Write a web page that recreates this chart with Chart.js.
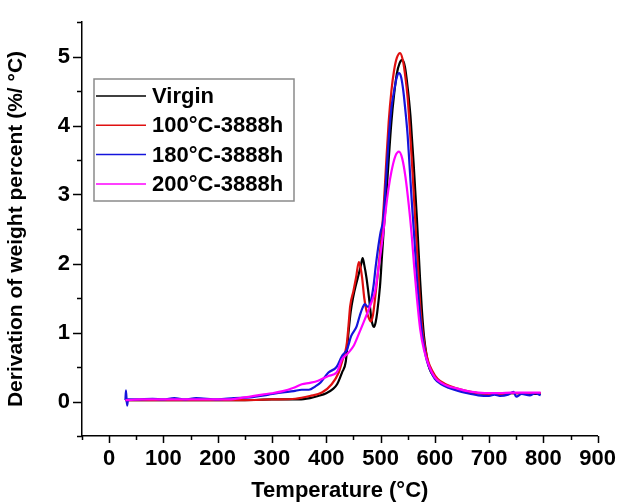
<!DOCTYPE html>
<html><head><meta charset="utf-8">
<script src="https://cdn.jsdelivr.net/npm/chart.js@4"></script>
<style>html,body{margin:0;padding:0;background:#fff}</style>
</head><body>
<canvas id="c" width="619" height="504"></canvas>
<script>
// ---- data (temperature °C, derivative %/°C) ----
const seriesLabels = ['Virgin', '100°C-3888h', '180°C-3888h', '200°C-3888h'];
const seriesColors = ['#000000', '#e01010', '#1414dc', '#ff00ff'];

const virgin = [[30,0.02],[60,0.02],[100,0.02],[150,0.02],[200,0.02],[250,0.02],[300,0.03],[330,0.03],[350,0.03],[370,0.05],[385,0.08],[400,0.12],[412,0.18],[420,0.25],[429,0.42],[436,0.58],[441,1.0],[445,1.3],[450,1.53],[455,1.7],[460,1.85],[464,1.98],[467,2.08],[470,1.98],[474,1.8],[477,1.62],[480,1.42],[483,1.2],[486,1.1],[488,1.08],[491,1.15],[494,1.3],[499,1.67],[503,2.15],[506,2.5],[510,2.9],[515,3.5],[520,4.05],[525,4.45],[530,4.75],[535,4.9],[540,4.95],[545,4.85],[550,4.55],[555,4.15],[558,3.8],[561,3.45],[564,3.05],[567,2.65],[570,2.2],[573,1.75],[576,1.35],[580,0.95],[585,0.66],[590,0.48],[600,0.35],[610,0.28],[625,0.22],[640,0.18],[660,0.14],[680,0.12],[700,0.11],[720,0.11],[740,0.12],[760,0.12],[780,0.11],[795,0.11]];

const aged100 = [[30,0.02],[60,0.02],[100,0.02],[150,0.02],[200,0.02],[250,0.02],[300,0.03],[343,0.04],[370,0.08],[392,0.13],[410,0.25],[423,0.42],[430,0.6],[435,0.72],[438,0.85],[441,1.1],[444,1.38],[450,1.6],[455,1.8],[460,2.02],[463,1.95],[466,1.8],[470,1.5],[474,1.32],[477,1.24],[482,1.16],[486,1.25],[490,1.5],[495,1.85],[499,2.16],[503,2.5],[506,2.85],[510,3.4],[515,4.05],[520,4.5],[525,4.8],[530,4.98],[536,5.05],[541,4.95],[545,4.75],[550,4.4],[554,3.95],[558,3.45],[562,2.9],[566,2.35],[570,1.8],[573,1.4],[577,1.05],[582,0.78],[588,0.58],[595,0.45],[605,0.33],[620,0.25],[640,0.19],[660,0.15],[680,0.12],[700,0.11],[720,0.11],[740,0.12],[760,0.12],[780,0.12],[795,0.12]];

const aged180 = [[30,0.02],[31,0.16],[33,-0.06],[35,0.03],[50,0.03],[80,0.04],[100,0.03],[120,0.05],[140,0.03],[160,0.05],[200,0.03],[230,0.05],[260,0.06],[294,0.1],[320,0.13],[340,0.15],[355,0.17],[368,0.17],[380,0.22],[390,0.28],[404,0.42],[419,0.5],[429,0.66],[438,0.75],[446,0.95],[456,1.09],[462,1.25],[467,1.36],[471,1.41],[477,1.37],[482,1.45],[487,1.67],[491,1.95],[496,2.25],[500,2.45],[505,2.64],[510,3.2],[515,3.8],[520,4.25],[525,4.5],[530,4.7],[534,4.76],[538,4.7],[542,4.5],[546,4.2],[550,3.85],[554,3.35],[558,2.85],[562,2.4],[566,1.9],[570,1.5],[574,1.15],[579,0.85],[585,0.6],[592,0.45],[600,0.33],[612,0.25],[625,0.2],[640,0.16],[660,0.12],[680,0.09],[700,0.08],[710,0.1],[720,0.08],[735,0.1],[745,0.14],[750,0.07],[760,0.11],[775,0.09],[785,0.12],[795,0.09]];

const aged200 = [[30,0.02],[60,0.03],[100,0.03],[150,0.03],[200,0.03],[221,0.03],[250,0.06],[282,0.1],[300,0.12],[320,0.15],[340,0.2],[355,0.25],[370,0.27],[385,0.3],[404,0.37],[419,0.42],[429,0.61],[440,0.7],[450,0.8],[460,0.98],[471,1.19],[483,1.43],[490,1.6],[496,1.91],[501,2.2],[505,2.44],[510,2.8],[515,3.1],[520,3.33],[527,3.55],[534,3.62],[540,3.52],[546,3.25],[552,2.85],[557,2.45],[562,1.95],[567,1.5],[573,1.05],[580,0.75],[590,0.5],[600,0.35],[612,0.27],[625,0.22],[640,0.19],[660,0.15],[680,0.13],[700,0.12],[720,0.12],[740,0.13],[760,0.13],[780,0.13],[795,0.13]];

const xTicks = [0,100,200,300,400,500,600,700,800,900];
const yTicks = [0,1,2,3,4,5];
const xMin = -50, xMax = 900, yMin = -0.5, yMax = 5.5;

const FONT = '"Liberation Sans", Arial, sans-serif';
const allSeries = [virgin, aged100, aged180, aged200];

const datasets = allSeries.map((s, i) => ({
  label: seriesLabels[i],
  data: s.map(p => ({x: p[0], y: p[1]})),
  borderColor: seriesColors[i],
  backgroundColor: seriesColors[i],
  borderWidth: 2.2,
  pointRadius: 0,
  cubicInterpolationMode: 'monotone',
  order: 3 - i
}));

const tickMarks = {
  id: 'tickMarks',
  afterDraw(chart) {
    const ctx = chart.ctx, xs = chart.scales.x, ys = chart.scales.y;
    ctx.save();
    ctx.strokeStyle = '#000';
    ctx.lineWidth = 1.5;
    ctx.beginPath();
    for (let v = xMin; v <= xMax + 1e-9; v += 50) {
      const px = Math.round(xs.getPixelForValue(v)) + 0.5;
      const len = (v % 100 === 0) ? 7 : 4;
      ctx.moveTo(px, xs.top); ctx.lineTo(px, xs.top + len);
    }
    for (let v = yMin; v <= yMax + 1e-9; v += 0.5) {
      const py = Math.round(ys.getPixelForValue(v)) + 0.5;
      const len = (Math.abs(v - Math.round(v)) < 1e-9) ? 9 : 5;
      ctx.moveTo(ys.right, py); ctx.lineTo(ys.right - len, py);
    }
    ctx.stroke();
    ctx.restore();
  }
};

const boxLegend = {
  id: 'boxLegend',
  afterDraw(chart) {
    const ctx = chart.ctx;
    const x0 = 94, y0 = 79, w = 200, h = 122;
    ctx.save();
    ctx.fillStyle = '#fff';
    ctx.fillRect(x0, y0, w, h);
    ctx.strokeStyle = '#8a8a8a';
    ctx.lineWidth = 1.5;
    ctx.strokeRect(x0, y0, w, h);
    ctx.font = 'bold 22px ' + FONT;
    ctx.textBaseline = 'middle';
    chart.data.datasets.forEach((d, i) => {
      const y = y0 + 17 + i * 29.3;
      ctx.strokeStyle = d.borderColor;
      ctx.lineWidth = 1.5;
      ctx.beginPath(); ctx.moveTo(x0 + 2, y); ctx.lineTo(x0 + 52, y); ctx.stroke();
      ctx.fillStyle = '#000';
      ctx.fillText(d.label, x0 + 58, y + 1);
    });
    ctx.restore();
  }
};

new Chart(document.getElementById('c'), {
  type: 'line',
  data: { datasets },
  plugins: [tickMarks, boxLegend],
  options: {
    responsive: false,
    devicePixelRatio: 1,
    animation: false,
    layout: { padding: { top: 22, right: 19, left: 0, bottom: 0 } },
    plugins: { legend: { display: false }, tooltip: { enabled: false } },
    scales: {
      x: {
        type: 'linear', min: xMin, max: xMax,
        afterBuildTicks: s => { s.ticks = xTicks.map(v => ({value: v})); },
        afterFit: s => { s.height = 68; },
        grid: { display: true, drawOnChartArea: false, drawTicks: true, tickLength: 7, color: 'rgba(0,0,0,0)' },
        border: { display: true, color: '#000', width: 1.5 },
        ticks: { color: '#000', padding: 3, maxRotation: 0, autoSkip: false, font: { family: FONT, size: 22, weight: 'bold' } },
        title: { display: true, text: 'Temperature (°C)', color: '#000', padding: { top: 0, bottom: 0 }, font: { family: FONT, size: 22, weight: 'bold', lineHeight: 1.2 } }
      },
      y: {
        type: 'linear', min: yMin, max: yMax,
        afterBuildTicks: s => { s.ticks = yTicks.map(v => ({value: v})); },
        afterFit: s => { s.width = 82; },
        grid: { display: true, drawOnChartArea: false, drawTicks: true, tickLength: 9, color: 'rgba(0,0,0,0)' },
        border: { display: true, color: '#000', width: 1.5 },
        ticks: { color: '#000', padding: 3, font: { family: FONT, size: 22, weight: 'bold' } },
        title: { display: true, text: 'Derivation of weight percent (%/ °C)', color: '#000', padding: { top: 4, bottom: 0 }, font: { family: FONT, size: 21, weight: 'bold', lineHeight: 1.2 } }
      }
    }
  }
});
</script>
</body></html>
